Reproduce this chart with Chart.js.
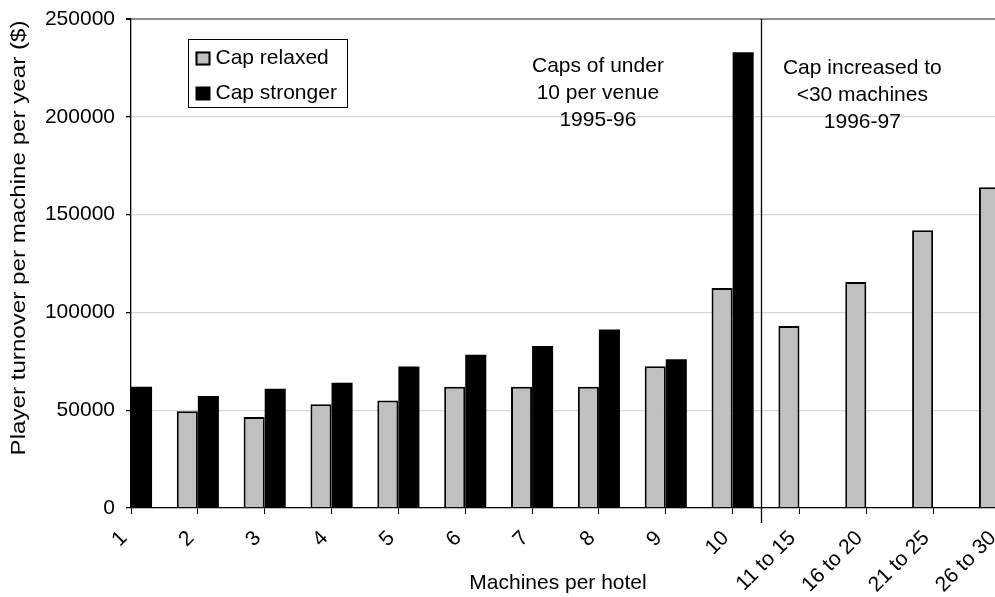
<!DOCTYPE html>
<html lang="en">
<head>
    <meta charset="UTF-8">
    <title>Player turnover per machine</title>
    <script src="https://cdn.jsdelivr.net/npm/chart.js"></script>
    <style>
        html, body { margin: 0; padding: 0; background: #fff; overflow: hidden; }
        #wrap { width: 1010px; height: 597px; }
    </style>
</head>
<body>
<div id="wrap">
    <canvas id="myChart" width="1010" height="597"></canvas>
</div>

<script>
    // categories and values
    var categories = ['1', '2', '3', '4', '5', '6', '7', '8', '9', '10',
                      '11 to 15', '16 to 20', '21 to 25', '26 to 30'];
    var capRelaxed = [null, 49500, 46500, 53000, 55000, 62000, 62000, 62000, 72500, 112500,
                      93000, 115500, 142000, 164000];
    var capStronger = [62000, 57300, 61000, 64000, 72300, 78400, 82800, 91200, 76000, 233000,
                       null, null, null, null];
    var yMax = 250000;
    var yStep = 50000;
    var seriesNames = ['Cap relaxed', 'Cap stronger'];
    var note1 = ['Caps of under', '10 per venue', '1995-96'];
    var note2 = ['Cap increased to', '<30 machines', '1996-97'];
    var xTitle = 'Machines per hotel';
    var yTitle = 'Player turnover per machine per year ($)';

    var FONT = '"Liberation Sans", Arial, sans-serif';

    // extra drawing: divider line, notes, legend box and axis titles
    var extras = {
        id: 'extras',
        afterDraw: function(chart) {
            var ctx = chart.ctx;
            var xs = chart.scales.x, ys = chart.scales.y;
            var area = chart.chartArea;
            ctx.save();

            // divider between 10 and 11 to 15
            var p9 = xs.getPixelForValue(9), p10 = xs.getPixelForValue(10);
            var lx = Math.round(p9 + (p10 - p9) * 0.43) + 0.5;
            ctx.strokeStyle = '#000';
            ctx.lineWidth = 1.3;
            ctx.beginPath();
            ctx.moveTo(lx, area.top);
            ctx.lineTo(lx, area.bottom + 15);
            ctx.stroke();

            // notes
            ctx.fillStyle = '#000';
            ctx.font = '21px ' + FONT;
            ctx.textAlign = 'center';
            ctx.textBaseline = 'middle';
            var n1x = xs.getPixelForValue(7) - 1, n1y = ys.getPixelForValue(226000);
            note1.forEach(function(t, i) { ctx.fillText(t, n1x, n1y + i * 27); });
            var n2x = xs.getPixelForValue(11) - 4, n2y = ys.getPixelForValue(225000);
            note2.forEach(function(t, i) { ctx.fillText(t, n2x, n2y + i * 27); });

            // legend box
            var bx = area.left + 57.5, by = area.top + 20.5;
            ctx.lineWidth = 1;
            ctx.strokeStyle = '#000';
            ctx.strokeRect(bx, by, 159, 68);
            var ds = chart.data.datasets;
            ds.forEach(function(d, i) {
                var sy = by + 12 + i * 35;
                ctx.fillStyle = d.backgroundColor;
                ctx.fillRect(bx + 7, sy, 15, 14);
                if (d.borderWidth) {
                    ctx.lineWidth = 2;
                    ctx.strokeRect(bx + 8, sy + 1, 13, 12);
                }
                ctx.fillStyle = '#000';
                ctx.textAlign = 'left';
                ctx.fillText(d.label, bx + 27, sy + 7);
            });

            // axis titles
            ctx.textAlign = 'center';
            ctx.fillText(xTitle, 558, 583);
            ctx.translate(19, 238);
            ctx.rotate(-Math.PI / 2);
            ctx.scale(1.15, 1);
            ctx.fillText(yTitle, 0, 0);
            ctx.restore();
        }
    };

    var ctx = document.getElementById('myChart').getContext('2d');
    var chart = new Chart(ctx, {
        type: 'bar',
        data: {
            labels: categories,
            datasets: [{
                label: seriesNames[0],
                data: capRelaxed,
                backgroundColor: '#c0c0c0',
                borderColor: '#000',
                borderWidth: 2,
                categoryPercentage: 0.63,
                barPercentage: 1.0
            }, {
                label: seriesNames[1],
                data: capStronger,
                backgroundColor: '#000',
                borderColor: '#000',
                borderWidth: 0,
                categoryPercentage: 0.63,
                barPercentage: 1.0
            }]
        },
        options: {
            responsive: false,
            animation: false,
            devicePixelRatio: 1,
            layout: { padding: { top: 19, right: 10, left: 0, bottom: 0 } },
            plugins: {
                legend: { display: false },
                tooltip: { enabled: false }
            },
            scales: {
                x: {
                    offset: false,
                    afterFit: function(s) {
                        s.height = 89;
                        s.paddingLeft = 0;
                        s.paddingRight = 0;
                    },
                    grid: {
                        offset: false,
                        drawOnChartArea: false,
                        drawTicks: true,
                        tickLength: 6,
                        tickColor: '#000'
                    },
                    border: { color: '#000', width: 1.3 },
                    ticks: {
                        autoSkip: false,
                        minRotation: 45,
                        maxRotation: 45,
                        padding: 12,
                        labelOffset: -7,
                        color: '#000',
                        font: { family: FONT, size: 21 }
                    }
                },
                y: {
                    min: 0,
                    max: yMax,
                    afterFit: function(s) {
                        s.width = 131;
                        s.paddingTop = 0;
                        s.paddingBottom = 0;
                    },
                    grid: {
                        color: function(c) { return c.tick && c.tick.value === yMax ? '#8c8c8c' : '#d6d6d6'; },
                        lineWidth: function(c) { return c.tick && c.tick.value === yMax ? 2 : 1.3; },
                        tickLength: 5,
                        tickColor: '#000'
                    },
                    border: { color: '#000', width: 1.3 },
                    ticks: {
                        stepSize: yStep,
                        padding: 11,
                        color: '#000',
                        font: { family: FONT, size: 21 },
                        callback: function(v) { return String(v); }
                    }
                }
            }
        },
        plugins: [extras]
    });
</script>
</body>
</html>
